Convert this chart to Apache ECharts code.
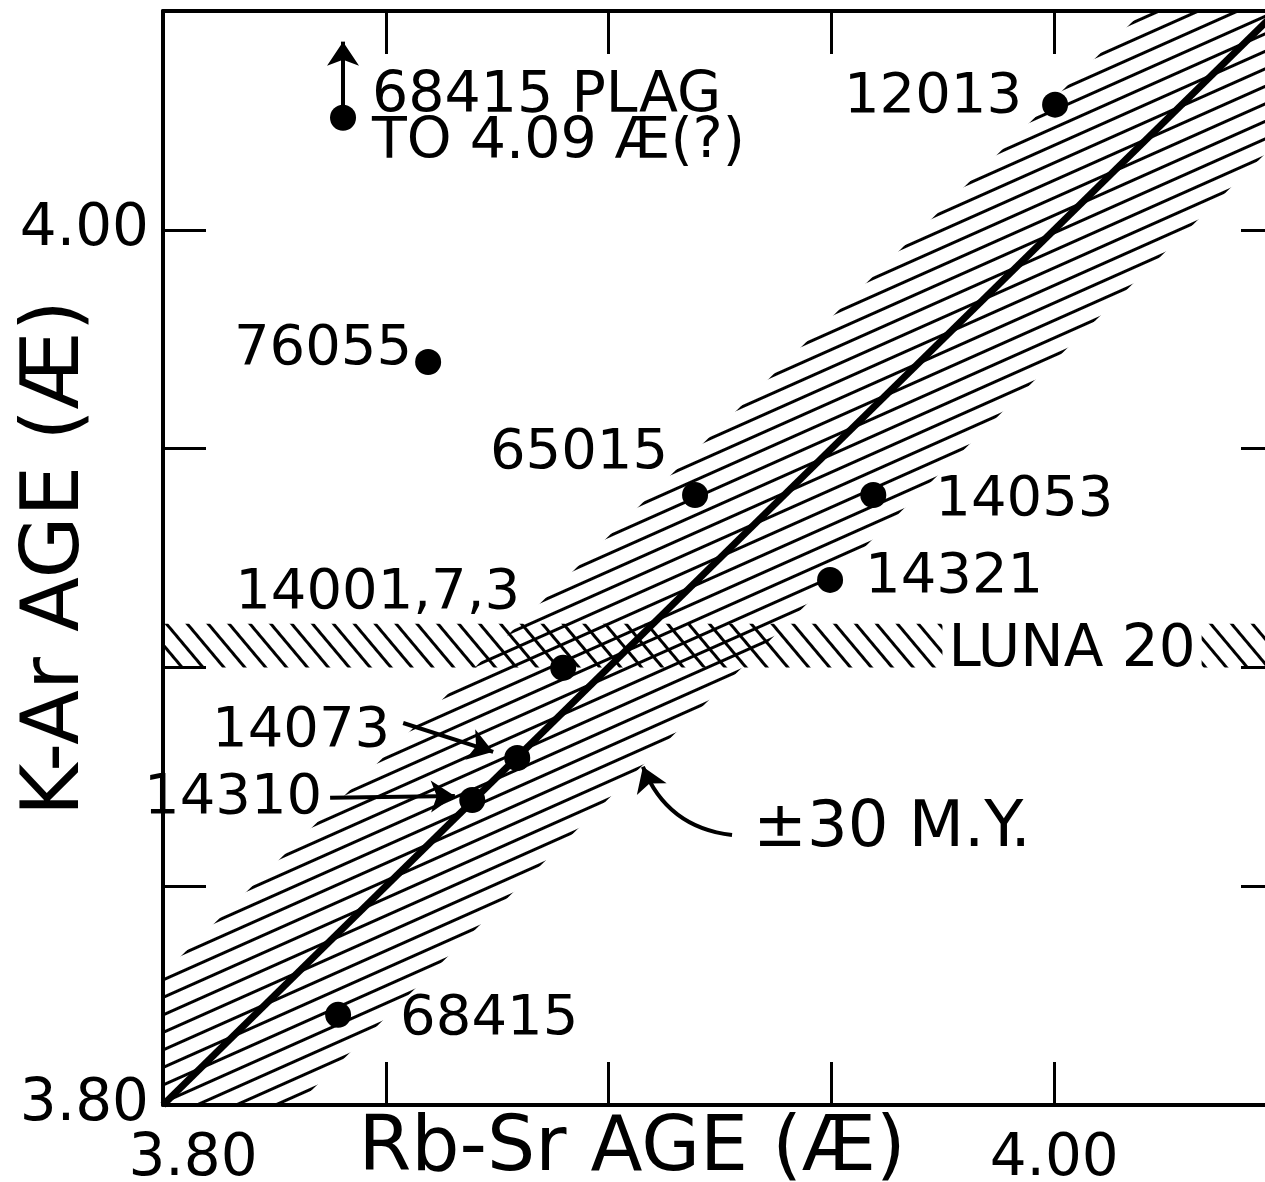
<!DOCTYPE html>
<html>
<head>
<meta charset="utf-8">
<script src="https://cdn.jsdelivr.net/npm/echarts@6/dist/echarts.min.js"></script>
<style>
  html, body { margin: 0; padding: 0; background: #fff; }
  #chart { width: 1265px; height: 1182px; }
</style>
</head>
<body>
<div id="chart"></div>
<script>
// K-Ar vs Rb-Sr ages of lunar rocks (AE)
const sampleNames = ['68415 PLAG\nTO 4.09 Æ(?)', '12013', '76055', '65015', '14053', '14321', '14001,7,3', '14073', '14310', '68415'];
const rbSrAge = [3.8404, 4.0002, 3.8595, 3.9194, 3.9594, 3.9497, 3.8898, 3.8795, 3.8694, 3.8393];
const kArAge = [4.0256, 4.0286, 3.9698, 3.9394, 3.9394, 3.9200, 3.8999, 3.8793, 3.8697, 3.8206];

// 1:1 line and the +-30 m.y. band around it
const lineAges = [3.80, 4.05];
const bandTop = [3.83, 4.08];
const bandBottom = [3.77, 4.02];
// Luna 20 band
const lunaTop = [3.91, 3.91];
const lunaBottom = 3.90;

const axisMin = 3.80;
const axisMax = 4.05;
const axisStep = 0.05;
const tickLabels = ['3.80', '4.00'];

// pointer arrows [from, to]
const arrowFrom = [[3.8404, 4.0256], [3.8539, 3.8873], [3.8375, 3.8702], [3.9277, 3.8617]];
const arrowTo = [[3.8404, 4.0430], [3.8741, 3.8807], [3.8655, 3.8706], [3.9077, 3.8773]];
const arrowBend = [0, 0, 0, 0.3];

const noteTexts = ['LUNA 20', '±30 M.Y.'];
const noteAt = [[4.004, 3.9038], [3.9636, 3.8629]];

const FONT = 'DejaVu Sans';

// where each sample label sits
const labelPlace = [
    { position: 'right', distance: 16, lineHeight: 46, offset: [0, 2], fontSize: 57 },
    { position: 'left', distance: 20, offset: [0, -7] },
    { position: 'left', distance: 3, offset: [0, -13] },
    { position: 'left', distance: 14, offset: [0, -42] },
    { position: 'right', distance: 49, offset: [0, 5] },
    { position: 'right', distance: 22, offset: [0, -2] },
    { position: 'left', distance: 30, offset: [0, -74] },
    { position: 'left', distance: 114, offset: [0, -27] },
    { position: 'left', distance: 137, offset: [0, -2] },
    { position: 'right', distance: 49, offset: [0, 5] },
];

function zip(a, b) {
    return a.map((v, i) => [v, b[i]]);
}

function hatch(deg) {
    return {
        symbol: 'rect',
        symbolSize: 1,
        symbolKeepAspect: false,
        color: '#000',
        backgroundColor: 'rgba(0,0,0,0)',
        dashArrayX: [1, 0],
        dashArrayY: [3, 13],
        rotation: deg * Math.PI / 180,
    };
}

function axis(extra) {
    return Object.assign({
        type: 'value',
        z: 10,
        min: axisMin,
        max: axisMax,
        interval: axisStep,
        nameMoveOverlap: false,
        splitLine: { show: false },
        axisLine: { show: true, onZero: false, lineStyle: { color: '#000', width: 4 } },
        axisTick: { show: true, inside: true, length: 43, lineStyle: { color: '#000', width: 3 } },
        axisLabel: { show: false },
    }, extra);
}

function tickText(v) {
    const s = v.toFixed(2);
    return tickLabels.indexOf(s) >= 0 ? s : '';
}

const chart = echarts.init(document.getElementById('chart'), null, { renderer: 'canvas' });

const option = {
    backgroundColor: '#ffffff',
    animation: false,
    grid: { left: 163, top: 11, width: 1114, height: 1094, containLabel: false, outerBoundsMode: 'none' },
    xAxis: [
        axis({
            position: 'bottom',
            name: 'Rb-Sr AGE (Æ)',
            nameLocation: 'middle',
            nameGap: 7,
            nameTextStyle: { color: '#000', fontFamily: FONT, fontSize: 76, padding: [0, 176, 0, 0] },
            axisLabel: {
                show: true,
                margin: 26,
                color: '#000',
                fontFamily: FONT,
                fontSize: 58,
                formatter: function (v) {
                    const s = tickText(v);
                    return s === '3.80' ? '{lo|' + s + '}' : s;
                },
                rich: { lo: { fontFamily: FONT, fontSize: 58, color: '#000', padding: [0, 0, 0, 60] } },
            },
        }),
        axis({ position: 'top' }),
    ],
    yAxis: [
        axis({
            position: 'left',
            name: 'K-Ar AGE (Æ)',
            nameLocation: 'middle',
            nameGap: 66,
            nameRotate: 90,
            nameTextStyle: { color: '#000', fontFamily: FONT, fontSize: 80 },
            axisLabel: { show: true, margin: 14, color: '#000', fontFamily: FONT, fontSize: 58, formatter: tickText },
        }),
        axis({ position: 'right', axisTick: { show: true, inside: true, length: 36, lineStyle: { color: '#000', width: 3 } } }),
    ],
    series: [
        {
            // hatched +-30 m.y. band: fill under the upper edge...
            type: 'line', data: zip(lineAges, bandTop),
            showSymbol: false, silent: true, lineStyle: { width: 0, opacity: 0 },
            itemStyle: { decal: hatch(-24) },
            areaStyle: { origin: 'start', color: 'rgba(0,0,0,0)', opacity: 1 }, z: 1,
        },
        {
            // ...then blank out everything under the lower edge
            type: 'line', data: zip(lineAges, bandBottom),
            showSymbol: false, silent: true, lineStyle: { width: 0, opacity: 0 },
            areaStyle: { origin: 'start', color: '#fff', opacity: 1 }, z: 1,
        },
        {
            type: 'line', data: zip(lineAges, lunaTop),
            showSymbol: false, silent: true, lineStyle: { width: 0, opacity: 0 },
            itemStyle: { decal: hatch(50) },
            areaStyle: { origin: lunaBottom, color: 'rgba(0,0,0,0)', opacity: 1 }, z: 2,
        },
        {
            type: 'line', data: zip(lineAges, lineAges),
            showSymbol: false, silent: true, lineStyle: { color: '#000', width: 7 }, z: 3,
        },
        {
            type: 'lines', coordinateSystem: 'cartesian2d', z: 4,
            symbol: ['none', 'arrow'], symbolSize: 24,
            lineStyle: { color: '#000', width: 4, opacity: 1 },
            data: arrowFrom.map((p, i) => ({ coords: [p, arrowTo[i]], lineStyle: { curveness: arrowBend[i] } })),
        },
        {
            type: 'scatter', z: 5,
            symbolSize: 26,
            itemStyle: { color: '#000', opacity: 1 },
            label: { show: true, color: '#000', fontFamily: FONT, fontSize: 56, formatter: '{b}' },
            data: sampleNames.map((n, i) => ({
                name: n,
                value: [rbSrAge[i], kArAge[i]],
                label: Object.assign({ align: labelPlace[i].position === 'right' ? 'left' : 'right' }, labelPlace[i]),
            })),
        },
        {
            type: 'scatter', z: 6, symbolSize: 0, silent: true,
            itemStyle: { opacity: 1 },
            label: { show: true, position: 'inside', color: '#000', fontFamily: FONT, formatter: '{b}' },
            data: noteTexts.map((t, i) => ({
                name: t,
                value: noteAt[i],
                label: i === 0
                    ? { fontSize: 58, backgroundColor: '#fff', padding: [0, 6] }
                    : { fontSize: 64 },
            })),
        },
    ],
};

chart.setOption(option);
</script>
</body>
</html>
